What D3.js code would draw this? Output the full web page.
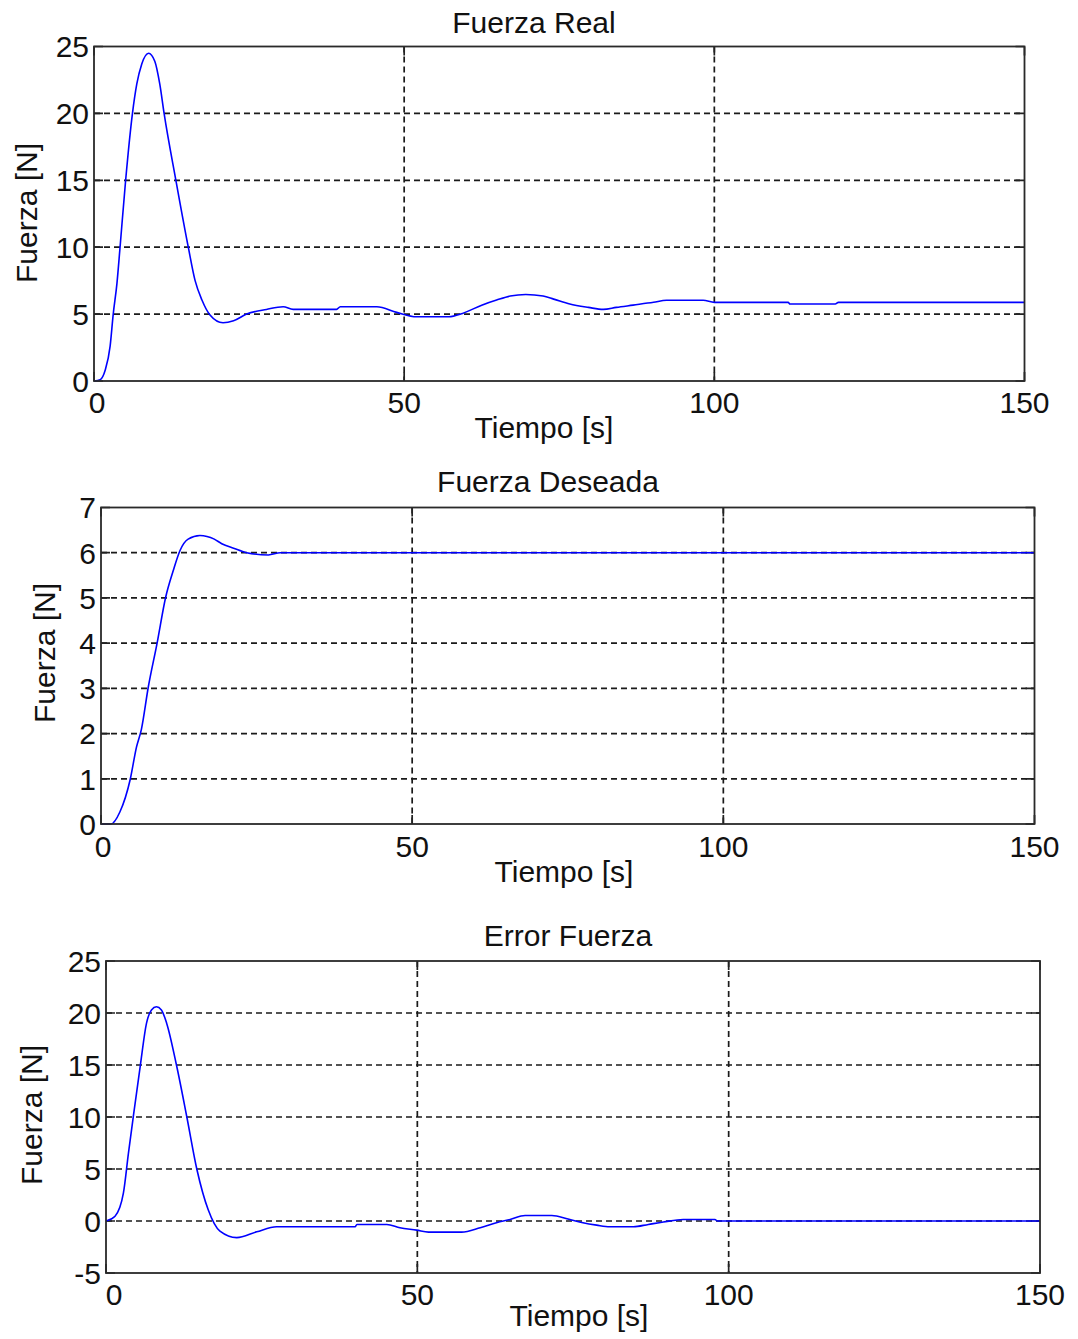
<!DOCTYPE html>
<html>
<head>
<meta charset="utf-8">
<script src="https://cdn.jsdelivr.net/npm/d3@7"></script>
<style>
  body { margin: 0; background: #fff; }
  text { font-family: "Liberation Sans", Arial, sans-serif; fill: #111; }
</style>
</head>
<body>
<div id="chart-container"></div>
<script>
// ---- data ----
const realTime = [0, 1, 1.8, 2.6, 3.1, 3.7, 4.2, 5.1, 6.2, 6.9, 7.7, 8.8, 9.8, 10.6, 11.3, 13.2, 15.2, 16.3, 17.4, 18.7, 20.8, 22.5, 24.6, 27.8, 30.5, 32.1, 39.1, 39.7, 45.6, 48.8, 52, 57.2, 59.4, 62.5, 64.9, 67.1, 69.6, 72.4, 74.1, 76.7, 79.7, 82.1, 84.2, 86.9, 90.2, 92.3, 98.2, 100, 111.9, 112.2, 119.5, 120, 150];
const realForce = [0, 0.1, 0.8, 2.6, 5, 7.3, 10, 15, 20, 22.2, 23.7, 24.5, 23.9, 22.2, 20, 15, 10, 7.5, 6.05, 4.93, 4.35, 4.5, 5.0, 5.35, 5.55, 5.35, 5.35, 5.55, 5.55, 5.13, 4.8, 4.8, 5.05, 5.67, 6.05, 6.35, 6.47, 6.35, 6.12, 5.75, 5.5, 5.35, 5.5, 5.67, 5.88, 6.03, 6.03, 5.88, 5.88, 5.75, 5.75, 5.88, 5.88];

const desTime = [0, 1.6, 3.05, 4.7, 5.7, 6.5, 7.6, 9, 10.4, 11.6, 12.7, 14, 15.9, 18.2, 19.4, 21.3, 23.4, 26.9, 28.8, 150];
const desForce = [0, 0, 0.27, 0.99, 1.7, 2.1, 3.03, 3.99, 5.02, 5.6, 6.05, 6.3, 6.38, 6.3, 6.2, 6.1, 6.0, 5.95, 6.0, 6.0];

const errTime = [0, 1.45, 2.8, 3.6, 4.4, 5.5, 6.5, 7.3, 8.1, 8.9, 9.75, 11.35, 12.96, 14.6, 16.4, 18.3, 21, 24.2, 27.4, 40, 40.3, 45.1, 47.2, 49.9, 51.8, 57.1, 60.1, 62.7, 64.9, 67.3, 71.6, 74.2, 76.6, 78.8, 80.9, 84.7, 87.1, 89.5, 92.7, 97.8, 98.2, 150];
const errForce = [0, 0.46, 2.7, 6.5, 10.1, 14.9, 19.0, 20.3, 20.6, 20.3, 19.0, 14.9, 10.07, 4.95, 1.1, -0.98, -1.6, -1.04, -0.56, -0.56, -0.33, -0.33, -0.65, -0.88, -1.07, -1.07, -0.65, -0.17, 0.15, 0.53, 0.53, 0.2, -0.17, -0.4, -0.56, -0.56, -0.33, -0.1, 0.15, 0.15, 0, 0];

const xTicks = [0, 50, 100, 150];
const realTicks = [0, 5, 10, 15, 20, 25];
const desTicks = [0, 1, 2, 3, 4, 5, 6, 7];
const errTicks = [-5, 0, 5, 10, 15, 20, 25];

const titles = ["Fuerza Real", "Fuerza Deseada", "Error Fuerza"];
const xLabel = "Tiempo [s]";
const yLabel = "Fuerza [N]";

// ---- layout ----
const width = 1078, height = 1339;
const fontSize = 30;
const tickLen = 9;

const panels = [
  { time: realTime, value: realForce, yTicks: realTicks,
    box: { left: 94, top: 46.5, right: 1024.5, bottom: 381 },
    titleX: 534, titleY: 33, xlabX: 544, xlabY: 438, tickY: 413, zeroShift: 3,
    ylabX: 37, ylabY: 213 },
  { time: desTime, value: desForce, yTicks: desTicks,
    box: { left: 101, top: 507.5, right: 1034.5, bottom: 824 },
    titleX: 548, titleY: 492, xlabX: 564, xlabY: 882, tickY: 857, zeroShift: 2,
    ylabX: 55, ylabY: 653 },
  { time: errTime, value: errForce, yTicks: errTicks,
    box: { left: 106, top: 961, right: 1040, bottom: 1273 },
    titleX: 568, titleY: 946, xlabX: 579, xlabY: 1326, tickY: 1305, zeroShift: 8,
    ylabX: 42, ylabY: 1115 }
];

const svg = d3.select("#chart-container").append("svg")
  .attr("width", width)
  .attr("height", height)
  .style("font-size", fontSize + "px");

panels.forEach((p, k) => {
  const b = p.box;
  const x = d3.scaleLinear().domain([0, 150]).range([b.left, b.right]);
  const y = d3.scaleLinear()
    .domain(d3.extent(p.yTicks))
    .range([b.bottom, b.top]);

  const g = svg.append("g");

  // grid lines (dashed), skip the ones lying on the box
  g.selectAll(".gx")
    .data(xTicks.slice(1, -1))
    .enter().append("line")
    .attr("x1", d => x(d)).attr("x2", d => x(d))
    .attr("y1", b.top).attr("y2", b.bottom)
    .attr("stroke", "#1a1a1a").attr("stroke-width", 1.7)
    .attr("stroke-dasharray", "6,4");

  g.selectAll(".gy")
    .data(p.yTicks.slice(1, -1))
    .enter().append("line")
    .attr("y1", d => y(d)).attr("y2", d => y(d))
    .attr("x1", b.left).attr("x2", b.right)
    .attr("stroke", "#1a1a1a").attr("stroke-width", 1.7)
    .attr("stroke-dasharray", "6,4");

  // inward ticks on all four sides
  const tickPath = [];
  xTicks.forEach(t => {
    tickPath.push(`M${x(t)},${b.bottom}v${-tickLen}`);
    tickPath.push(`M${x(t)},${b.top}v${tickLen}`);
  });
  p.yTicks.forEach(t => {
    tickPath.push(`M${b.left},${y(t)}h${tickLen}`);
    tickPath.push(`M${b.right},${y(t)}h${-tickLen}`);
  });
  g.append("path")
    .attr("d", tickPath.join(""))
    .attr("stroke", "#222").attr("stroke-width", 1.7);

  // data line
  const line = d3.line()
    .x(i => x(p.time[i]))
    .y(i => y(p.value[i]))
    .curve(d3.curveMonotoneX);

  g.append("path")
    .attr("d", line(d3.range(p.time.length)))
    .attr("fill", "none")
    .attr("stroke", "#0000ff")
    .attr("stroke-width", 1.6);

  // box
  g.append("rect")
    .attr("x", b.left).attr("y", b.top)
    .attr("width", b.right - b.left).attr("height", b.bottom - b.top)
    .attr("fill", "none")
    .attr("stroke", "#2a2a2a").attr("stroke-width", 1.8);

  // tick labels
  g.selectAll(".xt")
    .data(xTicks)
    .enter().append("text")
    .attr("x", d => x(d) + (d === 0 ? p.zeroShift : 0))
    .attr("y", p.tickY)
    .attr("text-anchor", "middle")
    .text(d => d);

  g.selectAll(".yt")
    .data(p.yTicks)
    .enter().append("text")
    .attr("x", b.left - 5)
    .attr("y", d => y(d))
    .attr("dy", "0.36em")
    .attr("text-anchor", "end")
    .text(d => d);

  // titles and axis labels
  g.append("text")
    .attr("x", p.titleX).attr("y", p.titleY)
    .attr("text-anchor", "middle")
    .text(titles[k]);

  g.append("text")
    .attr("x", p.xlabX).attr("y", p.xlabY)
    .attr("text-anchor", "middle")
    .text(xLabel);

  g.append("text")
    .attr("transform", `translate(${p.ylabX},${p.ylabY}) rotate(-90)`)
    .attr("text-anchor", "middle")
    .text(yLabel);
});
</script>
</body>
</html>
